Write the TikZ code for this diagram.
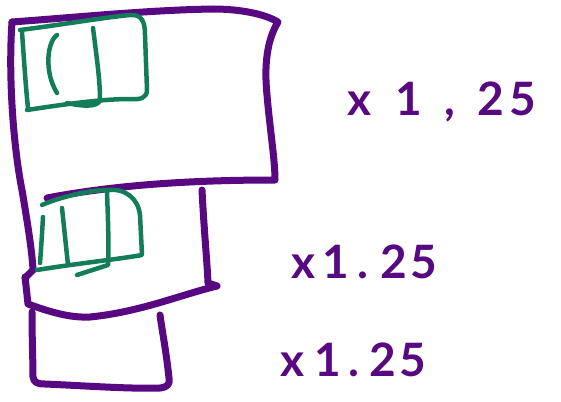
\documentclass[tikz,border=0pt]{standalone}
\usepackage{fontspec}
\setmainfont{Lato}
\definecolor{pur}{RGB}{88,8,128}
\definecolor{grn}{RGB}{18,125,88}
\begin{document}
\begin{tikzpicture}[x=1pt,y=-1pt,
  pen/.style={draw=pur,line width=7pt,line cap=round,line join=round},
  gpen/.style={draw=grn,line width=4.5pt,line cap=round,line join=round},
  hand/.style={text=pur,font=\bfseries\fontsize{46}{46}\selectfont,inner sep=0pt}]
\useasboundingbox (0,0) rectangle (561,401);
% big purple box
\path[pen] (12,22) .. controls (80,17) and (150,10) .. (213,9)
  .. controls (240,9) and (265,14) .. (278,22)
  .. controls (267,40) and (264,65) .. (267,95)
  .. controls (270,130) and (275,160) .. (275,180)
  .. controls (200,180) and (120,184) .. (47,198);
\path[pen] (12,22) .. controls (8,80) and (14,150) .. (22,190)
  .. controls (27,220) and (32,250) .. (33,270);
% middle box
\path[pen] (202,190) .. controls (204,230) and (207,260) .. (208,283) -- (217,286);
\path[pen] (25,277) .. controls (26,285) and (27,295) .. (28,304)
  .. controls (50,312) and (70,318) .. (90,317)
  .. controls (140,312) and (180,295) .. (217,286);
\path[pen] (33,270) -- (25,278);
% bottom box
\path[pen] (32,312) .. controls (32,340) and (33,360) .. (33,377)
  .. controls (34,383) and (38,384) .. (45,384)
  .. controls (90,386) and (130,389) .. (160,388)
  .. controls (168,387) and (170,384) .. (169,378)
  .. controls (166,350) and (162,330) .. (160,315);
% green top box
\path[gpen] (20,30) .. controls (60,25) and (100,18) .. (130,15)
  .. controls (142,14) and (145,22) .. (145,35)
  -- (147,90) .. controls (147,98) and (140,100) .. (130,99)
  .. controls (100,99) and (60,105) .. (27,110);
\path[gpen] (22,32) .. controls (24,60) and (26,90) .. (28,108);
\path[gpen] (93,28) .. controls (97,60) and (100,80) .. (100,100)
  .. controls (98,108) and (80,106) .. (67,103);
\path[gpen] (57,35) .. controls (47,42) and (44,72) .. (57,93);
% green bottom box
\path[gpen] (42,205) .. controls (60,197) and (90,190) .. (107,190)
  .. controls (125,188) and (138,198) .. (140,215)
  -- (142,255) .. controls (120,259) and (80,263) .. (37,270);
\path[gpen] (43,217) .. controls (42,235) and (41,250) .. (40,263);
\path[gpen] (62,208) -- (68,265);
\path[gpen] (107,192) .. controls (108,220) and (109,245) .. (108,265) -- (77,275);
% labels
\node[hand] (t1) at (442,102) {x\hspace{24pt}1\hspace{22pt},\hspace{22pt}2\hspace{6pt}5};
\node[hand] (t2) at (364,262) {x\hspace{8pt}1\hspace{8pt}.\hspace{12pt}2\hspace{3pt}5};
\node[hand] (t3) at (353,360) {x\hspace{10pt}1\hspace{8pt}.\hspace{10pt}2\hspace{3pt}5};
\end{tikzpicture}
\end{document}
